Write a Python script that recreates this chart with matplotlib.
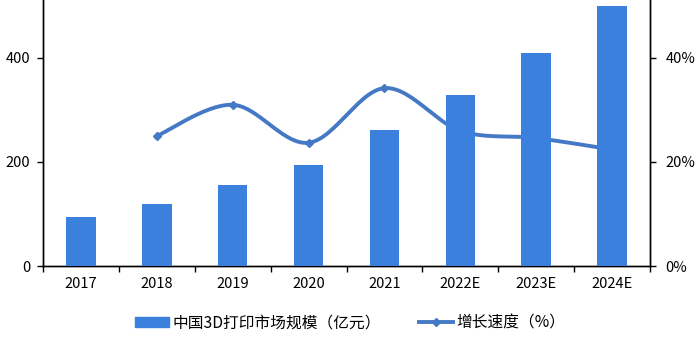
import numpy as np
import matplotlib
matplotlib.use("Agg")
import matplotlib.pyplot as plt
from matplotlib.ticker import FuncFormatter
from matplotlib.lines import Line2D
from matplotlib.patches import Patch

plt.rcParams['font.family'] = ['Noto Sans CJK SC', 'DejaVu Sans']

# Data
years = ["2017", "2018", "2019", "2020", "2021", "2022E", "2023E", "2024E"]
market_size = [95, 119, 155, 194, 261, 329, 409, 500]          # 亿元
growth = [np.nan, 25.0, 31.0, 23.7, 34.2, 26.0, 24.6, 22.4]    # %

bar_color = "#3b80dc"
line_color = "#4579c6"


def smooth(xs, ys, n=30):
    # Excel-style smoothed line (Catmull-Rom through the points)
    xs = np.asarray(xs, float)
    ys = np.asarray(ys, float)
    px, py = [], []
    for i in range(len(xs) - 1):
        x0, y0 = (xs[i - 1], ys[i - 1]) if i > 0 else (xs[i], ys[i])
        x3, y3 = (xs[i + 2], ys[i + 2]) if i + 2 < len(xs) else (xs[i + 1], ys[i + 1])
        x1, y1, x2, y2 = xs[i], ys[i], xs[i + 1], ys[i + 1]
        c1 = (x1 + (x2 - x0) / 6, y1 + (y2 - y0) / 6)
        c2 = (x2 - (x3 - x1) / 6, y2 - (y3 - y1) / 6)
        t = np.linspace(0, 1, n)
        bx = (1 - t) ** 3 * x1 + 3 * (1 - t) ** 2 * t * c1[0] + 3 * (1 - t) * t ** 2 * c2[0] + t ** 3 * x2
        by = (1 - t) ** 3 * y1 + 3 * (1 - t) ** 2 * t * c1[1] + 3 * (1 - t) * t ** 2 * c2[1] + t ** 3 * y2
        px.extend(bx)
        py.extend(by)
    return px, py


fig = plt.figure(figsize=(7, 3.5), dpi=100)
ax = fig.add_axes([43 / 700, 84 / 350, 607 / 700, 266 / 350])
ax2 = ax.twinx()

x = np.arange(len(years))
ax.bar(x, market_size, width=0.39, color=bar_color, zorder=3)

gx = [xi for xi, g in zip(x, growth) if not np.isnan(g)]
gy = [g for g in growth if not np.isnan(g)]
sx, sy = smooth(gx, gy)
ax2.plot(sx, sy, color=line_color, lw=2.8, solid_capstyle="round")
ax2.plot(gx, gy, ls="none", marker="D", ms=4, color=line_color)

# bars in front of the line
ax.set_zorder(ax2.get_zorder() + 1)
ax.patch.set_visible(False)

ax.set_xlim(-0.5, len(years) - 0.5)
ax.set_ylim(0, 511.5)
ax2.set_ylim(0, 51.15)
ax.set_yticks([0, 200, 400])
ax2.set_yticks([0, 20, 40])
ax2.yaxis.set_major_formatter(FuncFormatter(lambda v, p: f"{v:.0f}%"))

ax.set_xticks(x)
ax.set_xticklabels(years)
ax.set_xticks(np.arange(-0.5, len(years), 1), minor=True)
ax.tick_params(axis="x", which="major", length=0, pad=8, labelsize=10.5)
ax.tick_params(axis="x", which="minor", length=4, width=1, color="black")
ax.tick_params(axis="y", length=4, width=1, labelsize=10.5, pad=5)
ax2.tick_params(axis="y", length=4, width=1, labelsize=10.5, pad=7)

for a in (ax, ax2):
    a.spines["top"].set_visible(False)
    for s in ("left", "right", "bottom"):
        a.spines[s].set_color("black")
        a.spines[s].set_linewidth(1)

handles = [Patch(color=bar_color, label="中国3D打印市场规模（亿元）"),
           Line2D([], [], color=line_color, lw=2.8, marker="D", ms=4,
                  label="增长速度（%）")]
fig.legend(handles=handles, loc="center", bbox_to_anchor=(0.5, 0.077), ncol=2,
           frameon=False, fontsize=11.3, handlelength=2.2, handleheight=0.6,
           handletextpad=0.2, columnspacing=2.4)

fig.savefig("out.png", dpi=100)
